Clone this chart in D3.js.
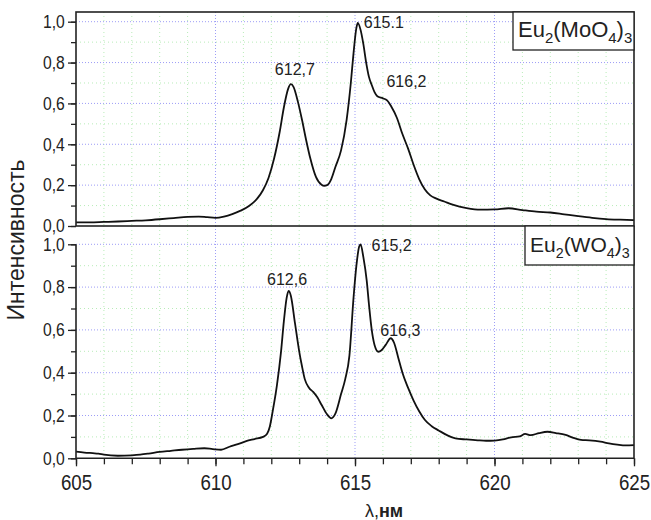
<!DOCTYPE html>
<html>
<head>
<meta charset="utf-8">
<script src="https://cdn.jsdelivr.net/npm/d3@7"></script>
<style>
  html, body { margin: 0; padding: 0; background: #fff; }
  svg { display: block; font-family: "Liberation Sans", Arial, sans-serif; }
</style>
</head>
<body>
<svg id="chart" width="651" height="520"></svg>
<script>
// Emission spectra of Eu2(MoO4)3 (upper panel) and Eu2(WO4)3 (lower panel)
const moWavelength = [605.0,605.5,606.0,606.5,607.0,607.5,608.0,608.5,609.0,609.4,609.7,610.0,610.3,610.6,610.9,611.2,611.5,611.7,611.9,612.1,612.3,612.45,612.6,612.7,612.8,612.95,613.1,613.25,613.4,613.6,613.8,613.9,614.0,614.15,614.3,614.5,614.7,614.85,614.95,615.05,615.1,615.2,615.3,615.4,615.5,615.6,615.7,615.8,616.0,616.15,616.3,616.5,616.7,616.9,617.1,617.3,617.5,617.7,617.9,618.2,618.5,619.0,619.5,620.0,620.5,621.0,621.5,622.0,622.5,623.0,623.5,624.0,624.5,625.0];
const moIntensity  = [0.018,0.018,0.020,0.022,0.025,0.028,0.033,0.039,0.045,0.046,0.043,0.040,0.046,0.058,0.075,0.098,0.135,0.175,0.235,0.33,0.46,0.58,0.67,0.694,0.68,0.61,0.52,0.42,0.33,0.24,0.202,0.197,0.20,0.23,0.29,0.37,0.52,0.70,0.85,0.97,0.994,0.96,0.89,0.80,0.73,0.69,0.655,0.635,0.625,0.615,0.585,0.53,0.45,0.38,0.30,0.23,0.18,0.15,0.135,0.12,0.105,0.088,0.080,0.081,0.087,0.078,0.070,0.066,0.057,0.048,0.040,0.034,0.031,0.029];

const wWavelength = [605.0,605.3,605.6,605.8,606.0,606.5,607.0,607.3,607.6,608.0,608.4,608.8,609.2,609.6,609.9,610.2,610.5,610.8,611.1,611.4,611.7,611.85,611.95,612.05,612.2,612.35,612.45,612.55,612.62,612.7,612.85,613.0,613.1,613.2,613.35,613.5,613.65,613.8,614.0,614.15,614.3,614.5,614.65,614.8,614.95,615.05,615.15,615.2,615.3,615.42,615.5,615.6,615.7,615.84,615.95,616.1,616.28,616.4,616.55,616.7,616.9,617.1,617.3,617.5,617.75,618.0,618.3,618.6,619.0,619.4,619.7,620.0,620.3,620.6,620.9,621.1,621.3,621.6,621.9,622.2,622.55,622.8,623.1,623.4,623.8,624.1,624.4,624.7,625.0];
const wIntensity  = [0.031,0.027,0.024,0.022,0.017,0.012,0.014,0.017,0.022,0.030,0.035,0.040,0.044,0.047,0.043,0.040,0.054,0.066,0.080,0.090,0.100,0.115,0.15,0.22,0.34,0.50,0.64,0.75,0.782,0.76,0.63,0.50,0.43,0.37,0.33,0.31,0.285,0.25,0.205,0.187,0.21,0.30,0.37,0.48,0.755,0.90,0.99,1.0,0.94,0.83,0.72,0.60,0.53,0.498,0.505,0.53,0.561,0.54,0.47,0.40,0.33,0.27,0.22,0.18,0.15,0.13,0.108,0.093,0.088,0.084,0.082,0.083,0.088,0.098,0.102,0.114,0.108,0.118,0.124,0.118,0.109,0.097,0.086,0.084,0.078,0.070,0.064,0.060,0.062];

const xMajorTicks = [605, 610, 615, 620, 625];
const xMinorTicks = d3.range(605, 625.5, 1);
const yMajorTicks = [0, 0.2, 0.4, 0.6, 0.8, 1.0];
const yMinorTicks = d3.range(0, 1.05, 0.1);

const moPeaks = [{ wl: 612.7, label: "612,7" }, { wl: 615.1, label: "615.1" }, { wl: 616.2, label: "616,2" }];
const wPeaks  = [{ wl: 612.6, label: "612,6" }, { wl: 615.2, label: "615,2" }, { wl: 616.3, label: "616,3" }];

const svg = d3.select("#chart");
const left = 76, right = 634;

const x = d3.scaleLinear().domain([605, 625]).range([left, right]);
const yTop = d3.scaleLinear().domain([0, 1]).range([226, 21.7]);
const yBot = d3.scaleLinear().domain([0, 1]).range([458.3, 244.3]);

const fmt = d => d3.format(".1f")(d).replace(".", ",");

function grid(y, yTopPx, yBotPx) {
  const g = svg.append("g");
  // minor grid (green dotted)
  g.selectAll("line.vmin").data(xMinorTicks.filter(v => v % 5 !== 0)).join("line")
    .attr("x1", d => x(d)).attr("x2", d => x(d)).attr("y1", yTopPx).attr("y2", yBotPx)
    .attr("stroke", "#b8ecb8").attr("stroke-width", 1).attr("stroke-dasharray", "1,3");
  g.selectAll("line.hmin").data(yMinorTicks.filter((v, i) => i % 2 === 1)).join("line")
    .attr("x1", left).attr("x2", right).attr("y1", d => y(d)).attr("y2", d => y(d))
    .attr("stroke", "#b8ecb8").attr("stroke-width", 1).attr("stroke-dasharray", "1,3");
  // major grid (blue dotted)
  g.selectAll("line.vmaj").data(xMajorTicks.slice(1, -1)).join("line")
    .attr("x1", d => x(d)).attr("x2", d => x(d)).attr("y1", yTopPx).attr("y2", yBotPx)
    .attr("stroke", "#9d9df6").attr("stroke-width", 1).attr("stroke-dasharray", "1,2");
  g.selectAll("line.hmaj").data(yMajorTicks.slice(1)).join("line")
    .attr("x1", left).attr("x2", right).attr("y1", d => y(d)).attr("y2", d => y(d))
    .attr("stroke", "#9d9df6").attr("stroke-width", 1).attr("stroke-dasharray", "1,2");
}

grid(yTop, 12, 226);
grid(yBot, 226, 458.3);

function yAxis(y) {
  const gMin = svg.append("g").attr("transform", `translate(${left},0)`)
    .call(d3.axisLeft(y).tickValues(yMinorTicks).tickSize(5).tickFormat(""));
  gMin.select(".domain").remove();
  gMin.selectAll("line").attr("stroke", "#222").attr("stroke-width", 1.3);
  const g = svg.append("g").attr("transform", `translate(${left},0)`)
    .call(d3.axisLeft(y).tickValues(yMajorTicks).tickSize(8).tickPadding(5).tickFormat(fmt));
  g.select(".domain").remove();
  g.selectAll("line").attr("stroke", "#222").attr("stroke-width", 1.3);
  g.selectAll("text").attr("font-size", 18).attr("fill", "#222")
    .attr("font-family", "Liberation Sans, Arial, sans-serif")
    .attr("transform", "scale(0.87,1)");
}
yAxis(yTop);
yAxis(yBot);

// x axis of lower panel
const gxMin = svg.append("g").attr("transform", "translate(0,458.3)")
  .call(d3.axisBottom(x).tickValues(xMinorTicks).tickSize(6).tickFormat(""));
gxMin.select(".domain").remove();
gxMin.selectAll("line").attr("stroke", "#222").attr("stroke-width", 1.3);
const gx = svg.append("g").attr("transform", "translate(0,458.3)")
  .call(d3.axisBottom(x).tickValues(xMajorTicks).tickSize(8).tickPadding(8).tickFormat(d3.format("d")));
gx.select(".domain").remove();
gx.selectAll("line").attr("stroke", "#222").attr("stroke-width", 1.3);
gx.selectAll("text").attr("font-size", 22).attr("fill", "#222")
  .attr("font-family", "Liberation Sans, Arial, sans-serif")
  .attr("transform", "scale(0.85,1)");

// spectra
const line = y => d3.line().x(d => x(d[0])).y(d => y(d[1])).curve(d3.curveMonotoneX);
svg.append("path").datum(d3.zip(moWavelength, moIntensity))
  .attr("d", line(yTop)).attr("fill", "none").attr("stroke", "#111").attr("stroke-width", 1.8);
svg.append("path").datum(d3.zip(wWavelength, wIntensity))
  .attr("d", line(yBot)).attr("fill", "none").attr("stroke", "#111").attr("stroke-width", 1.8);

// frames
const frame = svg.append("g").attr("fill", "none").attr("stroke", "#222").attr("stroke-width", 1.6);
frame.append("rect").attr("x", left).attr("y", 12).attr("width", right - left).attr("height", 226 - 12);
frame.append("line").attr("x1", left).attr("x2", left).attr("y1", yBot(1)).attr("y2", yBot(0));
frame.append("line").attr("x1", left).attr("x2", right).attr("y1", yBot(0)).attr("y2", yBot(0));
frame.append("line").attr("x1", right).attr("x2", right).attr("y1", 226).attr("y2", yBot(0));

// peak labels
function peakLabels(peaks, offsets) {
  svg.append("g").selectAll("text").data(peaks).join("text")
    .attr("x", (d, i) => x(d.wl) + offsets[i][0])
    .attr("y", (d, i) => offsets[i][1])
    .attr("font-size", 16).attr("fill", "#222")
    .text(d => d.label);
}
peakLabels(moPeaks, [[-16, 75], [6, 28], [-2, 87]]);
peakLabels(wPeaks, [[-21, 285], [11, 251], [-11, 336]]);

// legend boxes
function legend(bx, by, bw, bh, tx, ty, size, parts) {
  const g = svg.append("g");
  g.append("rect").attr("x", bx).attr("y", by).attr("width", bw).attr("height", bh)
    .attr("fill", "#fff").attr("stroke", "#222").attr("stroke-width", 1.3);
  const t = g.append("text").attr("x", tx).attr("y", ty).attr("font-size", size).attr("fill", "#222");
  parts.forEach(p => {
    const s = t.append("tspan").text(p.t);
    if (p.sub) s.attr("font-size", size * 0.68).attr("dy", size * 0.28);
    else if (p.after) s.attr("dy", -size * 0.28);
  });
}
legend(513, 12, 121, 38, 518, 37, 22,
  [{ t: "Eu" }, { t: "2", sub: true }, { t: "(MoO", after: true }, { t: "4", sub: true }, { t: ")", after: true }, { t: "3", sub: true }]);
legend(525, 226, 109, 39, 530, 252, 21,
  [{ t: "Eu" }, { t: "2", sub: true }, { t: "(WO", after: true }, { t: "4", sub: true }, { t: ")", after: true }, { t: "3", sub: true }]);

// axis titles
svg.append("text").attr("transform", "translate(24,240) rotate(-90)")
  .attr("text-anchor", "middle").attr("font-size", 23).attr("fill", "#222")
  .text("Интенсивность");
const xt = svg.append("text").attr("x", 384).attr("y", 517).attr("text-anchor", "middle")
  .attr("font-size", 18).attr("fill", "#222");
xt.append("tspan").text("λ,");
xt.append("tspan").attr("font-weight", "bold").text("нм");
</script>
</body>
</html>
